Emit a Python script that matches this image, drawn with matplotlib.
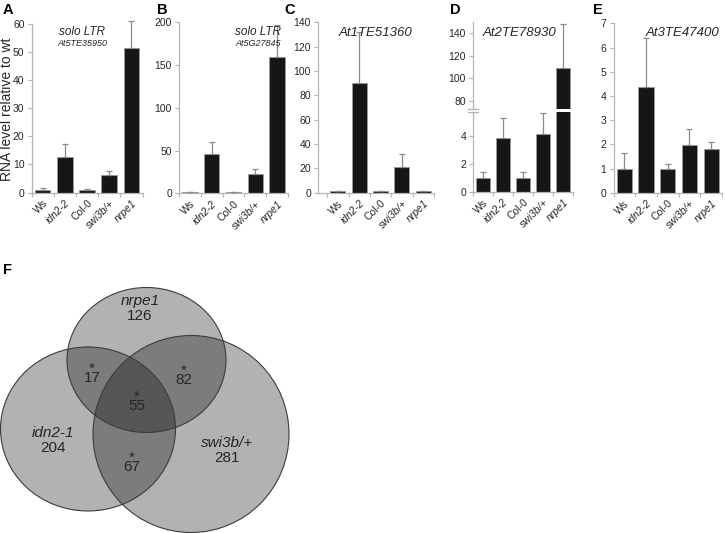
import numpy as np
import matplotlib
matplotlib.use('Agg')
import matplotlib.pyplot as plt
from matplotlib.patches import Ellipse

plt.rcParams['font.family'] = ['Liberation Sans', 'DejaVu Sans']

# ---- data -------------------------------------------------------------
genotypes = ['Ws', 'idn2-2', 'Col-0', 'swi3b/+', 'nrpe1']
is_italic = [False, True, False, True, True]

a_mean = [1.0, 12.8, 1.0, 6.2, 51.4]
a_err = [0.5, 4.5, 0.2, 1.5, 9.5]

b_mean = [1.0, 45.5, 1.0, 22.2, 159.0]
b_err = [1.0, 14.9, 0.5, 6.6, 37.5]

c_mean = [1.0, 90.5, 1.0, 21.4, 1.0]
c_err = [0.6, 41.5, 0.8, 10.8, 0.3]

d_mean = [1.0, 3.85, 1.0, 4.15, 109.0]
d_err = [0.38, 1.45, 0.42, 1.5, 39.0]

e_mean = [1.0, 4.38, 1.0, 1.97, 1.8]
e_err = [0.63, 2.0, 0.18, 0.65, 0.28]

# Venn (F): set names, unique counts, overlap counts
venn_names = ['nrpe1', 'idn2-1', 'swi3b/+']
venn_unique = [126, 204, 281]
venn_pairs = {'nrpe1&idn2-1': 17, 'nrpe1&swi3b/+': 82, 'idn2-1&swi3b/+': 67}
venn_all = 55
# circle layout in pixels (centre, width, height)
venn_center = [(146.5, 360.0), (88.0, 429.0), (191.0, 434.0)]
venn_size = [(159, 145), (175, 164), (196, 197)]

W, H = 725, 533
BAR = '#161616'
EDGE = '#9a9a9a'
ERR = '#8a8a8a'
AXC = '#b5b5b5'
TXT = '#262626'


def px_axes(fig, x0, y0, x1, y1):
    return fig.add_axes([x0 / W, 1 - y1 / H, (x1 - x0) / W, (y1 - y0) / H])


def ftext(fig, x, y, s, **kw):
    return fig.text(x / W, 1 - y / H, s, **kw)


def style_axis(ax, ylim, yticks, xlim=(-0.5, 4.5), show_x=True):
    ax.set_ylim(*ylim)
    ax.set_xlim(*xlim)
    ax.set_yticks(yticks)
    for s in ('top', 'right'):
        ax.spines[s].set_visible(False)
    for s in ('left', 'bottom'):
        ax.spines[s].set_color(AXC)
        ax.spines[s].set_linewidth(0.9)
    ax.tick_params(axis='y', length=3, width=0.8, color=AXC, labelsize=7.5,
                   labelcolor=TXT, pad=2)
    ax.set_facecolor('none')
    if show_x:
        ax.set_xticks(range(len(genotypes)))
        ax.set_xticklabels(genotypes, rotation=45, ha='right',
                           rotation_mode='anchor', fontsize=7.5, color=TXT)
        for lbl, it in zip(ax.get_xticklabels(), is_italic):
            if it:
                lbl.set_style('italic')
        ax.set_xticks(np.arange(-0.5, len(genotypes)), minor=True)
        ax.tick_params(axis='x', which='major', length=0, pad=4)
        ax.tick_params(axis='x', which='minor', length=3, width=0.8, color=AXC)
    else:
        ax.set_xticks([])


def draw_bars(ax, mean, err, clip=True):
    x = np.arange(len(mean))
    ax.bar(x, mean, width=0.7, color=BAR, edgecolor=EDGE, linewidth=0.6,
           zorder=2)
    eb = ax.errorbar(x, mean, yerr=[np.zeros(len(err)), err], fmt='none',
                     ecolor=ERR, elinewidth=0.9, capsize=2.5, capthick=0.9,
                     zorder=3)
    if not clip:
        for art in eb.lines[1] + eb.lines[2]:
            art.set_clip_on(False)


fig = plt.figure(figsize=(W / 100, H / 100), dpi=100)

# A
ax = px_axes(fig, 31.5, 24, 142.5, 192.5)
draw_bars(ax, a_mean, a_err, clip=False)
style_axis(ax, (0, 60), range(0, 61, 10))
ftext(fig, 82, 32, 'solo LTR', ha='center', va='center', fontsize=8.5,
      style='italic', color=TXT)
ftext(fig, 82, 43.5, 'At5TE35950', ha='center', va='center', fontsize=6.5,
      style='italic', color=TXT)
ftext(fig, 7, 109, 'RNA level relative to wt', rotation=90, ha='center',
      va='center', fontsize=10, color=TXT)

# B
ax = px_axes(fig, 179, 22.3, 288, 193.3)
draw_bars(ax, b_mean, b_err)
style_axis(ax, (0, 200), range(0, 201, 50))
ftext(fig, 258, 32, 'solo LTR', ha='center', va='center', fontsize=8.5,
      style='italic', color=TXT)
ftext(fig, 258, 43.5, 'At5G27845', ha='center', va='center', fontsize=6.5,
      style='italic', color=TXT)

# C
ax = px_axes(fig, 318, 22.3, 434, 192.7)
draw_bars(ax, c_mean, c_err)
style_axis(ax, (0, 140), range(0, 141, 20), xlim=(-0.93, 4.5))
ftext(fig, 376, 33, 'At1TE51360', ha='center', va='center', fontsize=9.5,
      style='italic', color=TXT)

# D (broken axis)
ax_hi = px_axes(fig, 473, 22, 573, 108.5)
draw_bars(ax_hi, d_mean, d_err)
style_axis(ax_hi, (73, 150), range(80, 141, 20), show_x=False)
ax_hi.spines['bottom'].set_visible(False)
ax_lo = px_axes(fig, 473, 111.5, 573, 191.7)
draw_bars(ax_lo, d_mean, d_err)
style_axis(ax_lo, (0, 5.75), [0, 2, 4])
for a, yy in ((ax_hi, 0.0), (ax_lo, 1.0)):
    a.plot([-0.05, 0.05], [yy, yy], transform=a.transAxes, color=AXC,
           lw=0.9, clip_on=False)
ftext(fig, 520, 33, 'At2TE78930', ha='center', va='center', fontsize=9.5,
      style='italic', color=TXT)

# E
ax = px_axes(fig, 613.5, 23.3, 722, 192.7)
draw_bars(ax, e_mean, e_err)
style_axis(ax, (0, 7), range(0, 8))
ftext(fig, 683, 33, 'At3TE47400', ha='center', va='center', fontsize=9.5,
      style='italic', color=TXT)

# panel letters
for lab, xx, yy in (('A', 3, 10), ('B', 157, 10), ('C', 284, 10),
                    ('D', 450, 10), ('E', 593, 10), ('F', 3, 270)):
    ftext(fig, xx, yy, lab, ha='left', va='center', fontsize=10.5,
          fontweight='bold', color='black')

# F: Venn diagram drawn in pixel coordinates
axv = px_axes(fig, 0, 280, 300, 533)
axv.set_xlim(0, 300)
axv.set_ylim(533, 280)
axv.axis('off')
for (cx, cy), (w, h) in zip(venn_center, venn_size):
    axv.add_patch(Ellipse((cx, cy), w, h, facecolor='black', alpha=0.3,
                          edgecolor='none'))
for (cx, cy), (w, h) in zip(venn_center, venn_size):
    axv.add_patch(Ellipse((cx, cy), w, h, facecolor='none',
                          edgecolor='#3c3c3c', linewidth=0.8))

name_pos = [(140, 301), (53, 433), (227, 443)]
for name, n, (x, y) in zip(venn_names, venn_unique, name_pos):
    axv.text(x, y, name, ha='center', va='center', fontsize=11,
             style='italic', color=TXT)
    axv.text(x, y + 15.5, str(n), ha='center', va='center', fontsize=11,
             color=TXT)


def star_count(x, y, n):
    # asterisk and count as one two-line label; y is the centre of the digits
    axv.text(x, y + 8.7, '*\n%d' % n, ha='center', va='bottom', fontsize=11,
             linespacing=0.5, color=TXT)


overlap_pos = {'nrpe1&idn2-1': (92, 376), 'nrpe1&swi3b/+': (184, 378),
               'idn2-1&swi3b/+': (132, 465)}
for key, n in venn_pairs.items():
    star_count(*overlap_pos[key], n)
star_count(137, 404, venn_all)

fig.savefig('out.png', dpi=100)
